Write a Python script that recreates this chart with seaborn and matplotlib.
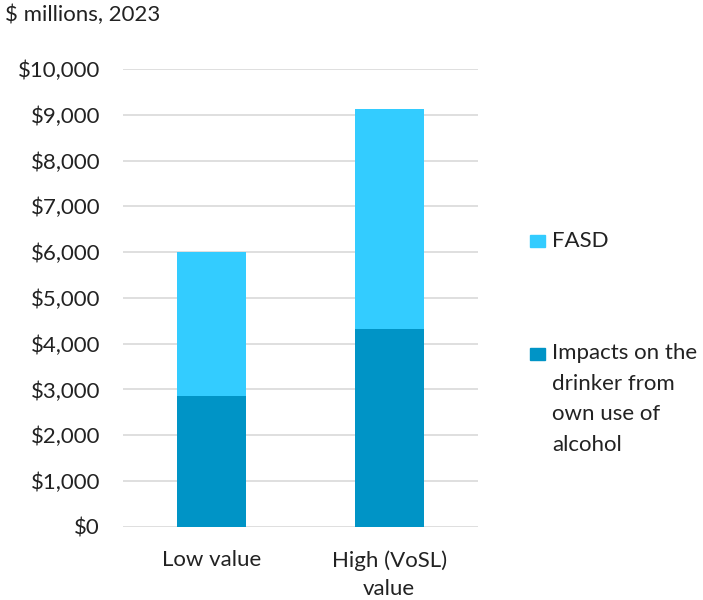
import matplotlib
matplotlib.use("Agg")
import matplotlib.pyplot as plt
from matplotlib.patches import Rectangle
from matplotlib.ticker import FuncFormatter, MultipleLocator
import seaborn as sns
import pandas as pd

categories = ["Low value", "High (VoSL)\nvalue"]
drinker_impacts = [2850, 4330]
fasd = [3160, 4790]
series_labels = ["FASD", "Impacts on the\ndrinker from\nown use of\nalcohol"]
y_title = "$ millions, 2023"

light = "#33CCFF"
dark = "#0094C6"
txt = "#222222"

sns.set_theme(style="white")
plt.rcParams["font.family"] = ["Lato", "DejaVu Sans"]

totals = [a + b for a, b in zip(drinker_impacts, fasd)]
df = pd.DataFrame({"cat": categories, "total": totals, "drinker": drinker_impacts})

fig = plt.figure(figsize=(7.03, 6.0), dpi=100)
ax = fig.add_axes([0.175, 0.122, 0.505, 0.763])

sns.barplot(data=df, x="cat", y="total", color=light, width=0.39, ax=ax,
            saturation=1, zorder=3, linewidth=0)
sns.barplot(data=df, x="cat", y="drinker", color=dark, width=0.39, ax=ax,
            saturation=1, zorder=3, linewidth=0)

ax.set_ylim(0, 10000)
ax.set_xlim(-0.5, 1.5)
ax.yaxis.set_major_locator(MultipleLocator(1000))
ax.yaxis.set_major_formatter(FuncFormatter(lambda v, p: "$" + format(int(v), ",")))
ax.grid(axis="y", color="#d9d9d9", linewidth=1.2, zorder=0)
ax.set_axisbelow(True)
for s in ax.spines.values():
    s.set_visible(False)
ax.set_xlabel("")
ax.set_ylabel("")
ax.tick_params(axis="y", length=0, pad=16.5, labelsize=16, labelcolor=txt)
ax.tick_params(axis="x", length=0, pad=17, labelsize=16, labelcolor=txt)
for lab in ax.get_xticklabels():
    lab.set_linespacing(1.5)

fig.text(0.007, 0.975, y_title, fontsize=16, color=txt, ha="left", va="center")

# legend
fig.add_artist(Rectangle((530 / 703, 1 - 247 / 600), 15 / 703, 12 / 600,
                         transform=fig.transFigure, color=light))
fig.text(552 / 703, 1 - 241 / 600, series_labels[0], fontsize=16, color=txt,
         ha="left", va="center")
fig.add_artist(Rectangle((530 / 703, 1 - 360 / 600), 15 / 703, 12 / 600,
                         transform=fig.transFigure, color=dark))
fig.text(552 / 703, 1 - 343 / 600, series_labels[1], fontsize=16, color=txt,
         ha="left", va="top", linespacing=1.66)

fig.savefig("out.png", dpi=100)
